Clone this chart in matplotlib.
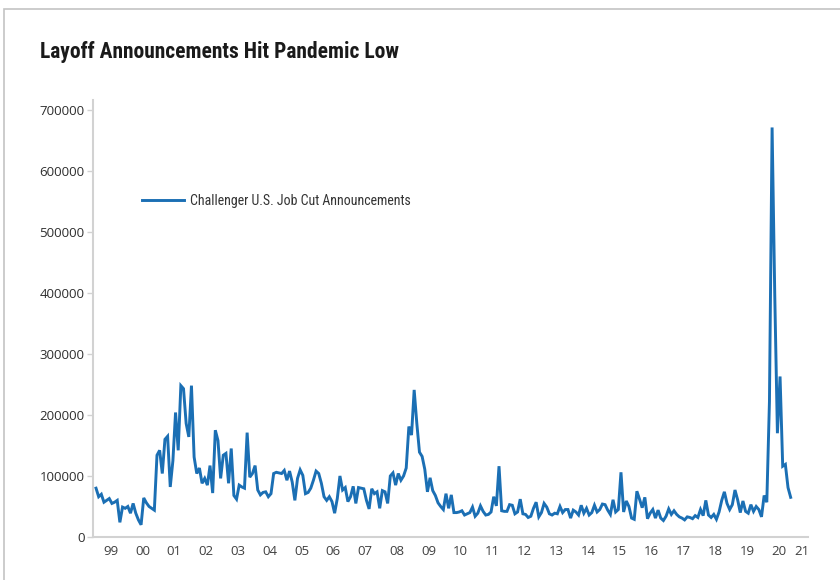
import matplotlib
matplotlib.use("Agg")
import matplotlib.pyplot as plt
from matplotlib import font_manager
from matplotlib.patches import Rectangle
import numpy as np

# Challenger U.S. job cut announcements, monthly, in thousands (Jan 1999 - Nov 2020)
cuts_1999 = [80, 66, 70, 57, 60, 63, 55, 57, 60, 24, 49, 47]
cuts_2000 = [50, 39, 55, 39, 28, 20, 64, 56, 50, 47, 44, 134]
cuts_2001 = [142, 104, 160, 165, 82, 125, 204, 142, 248, 243, 186, 164]
cuts_2002 = [248, 131, 104, 113, 88, 96, 85, 117, 72, 175, 158, 96]
cuts_2003 = [134, 137, 88, 145, 68, 62, 85, 82, 80, 171, 98, 104]
cuts_2004 = [117, 77, 69, 73, 74, 66, 71, 104, 106, 105, 104, 109]
cuts_2005 = [93, 108, 90, 60, 96, 110, 101, 71, 73, 80, 93, 108]
cuts_2006 = [104, 88, 66, 60, 66, 58, 39, 63, 100, 77, 81, 58]
cuts_2007 = [66, 83, 55, 81, 80, 79, 60, 46, 79, 71, 74, 47]
cuts_2008 = [76, 74, 55, 100, 105, 85, 104, 93, 100, 113, 181, 167]
cuts_2009 = [241, 186, 139, 132, 111, 74, 97, 76, 68, 56, 50, 45]
cuts_2010 = [71, 47, 69, 40, 40, 41, 43, 36, 38, 40, 49, 34]
cuts_2011 = [39, 51, 42, 36, 37, 41, 66, 51, 116, 43, 42, 42]
cuts_2012 = [53, 52, 38, 41, 62, 38, 37, 32, 34, 47, 57, 33]
cuts_2013 = [40, 55, 49, 38, 36, 39, 38, 50, 40, 45, 45, 31]
cuts_2014 = [44, 41, 36, 52, 39, 47, 36, 40, 52, 41, 45, 54]
cuts_2015 = [53, 44, 37, 61, 41, 45, 106, 41, 59, 50, 31, 29]
cuts_2016 = [75, 62, 48, 65, 30, 39, 45, 31, 44, 31, 27, 34]
cuts_2017 = [46, 37, 43, 37, 33, 31, 28, 33, 32, 30, 35, 32]
cuts_2018 = [45, 35, 60, 36, 32, 37, 29, 41, 60, 74, 55, 45]
cuts_2019 = [53, 77, 61, 40, 59, 42, 39, 53, 42, 50, 45, 33]
cuts_2020 = [68, 57, 222, 671, 397, 170, 263, 116, 119, 81, 65]

year_labels = ["99", "00", "01", "02", "03", "04", "05", "06", "07", "08", "09",
               "10", "11", "12", "13", "14", "15", "16", "17", "18", "19", "20", "21"]

series = (cuts_1999 + cuts_2000 + cuts_2001 + cuts_2002 + cuts_2003 + cuts_2004
          + cuts_2005 + cuts_2006 + cuts_2007 + cuts_2008 + cuts_2009 + cuts_2010
          + cuts_2011 + cuts_2012 + cuts_2013 + cuts_2014 + cuts_2015 + cuts_2016
          + cuts_2017 + cuts_2018 + cuts_2019 + cuts_2020)
values = np.array(series) * 1000
# months as fractional years, centred in each month
t = 1999 + (np.arange(len(values)) + 0.5) / 12

installed = {f.name for f in font_manager.fontManager.ttflist}
narrow = next((n for n in ["Roboto Condensed", "Liberation Sans Narrow"] if n in installed), "Roboto")
tick_font = "Open Sans" if "Open Sans" in installed else "DejaVu Sans"

BLUE = "#1b6fb4"
AXIS_GRAY = "#d2d2d2"

fig = plt.figure(figsize=(8.4, 5.8), dpi=100)
fig.patch.set_facecolor("white")

# light card outline
fig.patches.append(Rectangle((4 / 840, -0.1), 1.2, 1 - 9 / 580 + 0.1,
                             transform=fig.transFigure, fill=False,
                             edgecolor="#c4c4c4", linewidth=1.2))

fig.text(40 / 840, 1 - 58 / 580, "Layoff Announcements Hit Pandemic Low",
         fontsize=15.5, fontweight="bold", family=narrow, color="#1a1a1a",
         va="baseline", ha="left")

ax = fig.add_axes([93 / 840, 1 - 537 / 580, 715 / 840, 437 / 580])
ax.plot(t, values, color=BLUE, linewidth=2.1, solid_joinstyle="miter",
        label="Challenger U.S. Job Cut Announcements")

ax.set_xlim(1998.947, 2021.42)
ax.set_ylim(0, 716000)

ax.set_yticks(np.arange(0, 700001, 100000))
ax.set_yticklabels([f"{v}" for v in range(0, 700001, 100000)])
tick_pos = [1999.5 + i for i in range(len(year_labels) - 1)] + [2021.23]
ax.set_xticks(tick_pos)
ax.set_xticklabels(year_labels)

for side in ["top", "right"]:
    ax.spines[side].set_visible(False)
for side in ["left", "bottom"]:
    ax.spines[side].set_color(AXIS_GRAY)
    ax.spines[side].set_linewidth(1.5)

ax.tick_params(axis="y", length=4, width=1, color=AXIS_GRAY, pad=2,
               labelsize=9.5, labelcolor="#2e2e2e")
ax.tick_params(axis="x", length=0, pad=6, labelsize=9.5, labelcolor="#404040")
for lbl in ax.get_xticklabels() + ax.get_yticklabels():
    lbl.set_family(tick_font)

leg = ax.legend(loc="center left", bbox_to_anchor=(49 / 715, 336 / 437),
                frameon=False, borderpad=0, borderaxespad=0,
                handlelength=3.0, handletextpad=0.45,
                prop={"family": narrow, "size": 10})
for txt in leg.get_texts():
    txt.set_color("#333333")

fig.savefig("out.png", dpi=100)
